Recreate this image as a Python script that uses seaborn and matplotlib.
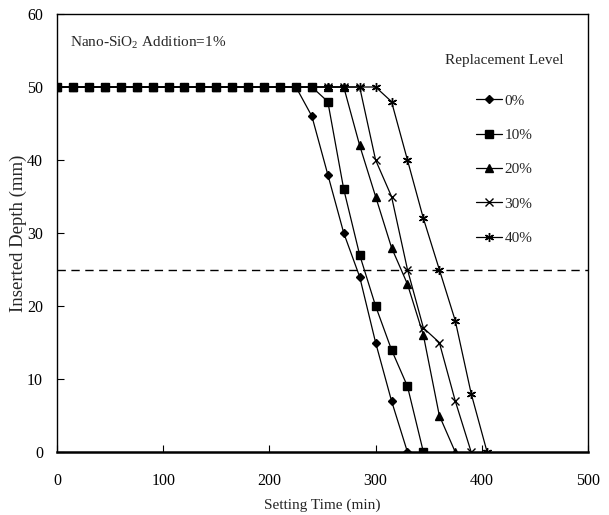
import numpy as np
import pandas as pd
import seaborn as sns
import matplotlib.pyplot as plt

# Setting time (min), shared by all series
time = [0, 15, 30, 45, 60, 75, 90, 105, 120, 135, 150, 165, 180, 195,
        210, 225, 240, 255, 270, 285, 300, 315, 330, 345, 360, 375, 390, 405]

# Inserted depth (mm) for each replacement level
depth_0 = [50, 50, 50, 50, 50, 50, 50, 50, 50, 50, 50, 50, 50, 50, 50, 50,
           46, 38, 30, 24, 15, 7, 0]
depth_10 = [50, 50, 50, 50, 50, 50, 50, 50, 50, 50, 50, 50, 50, 50, 50, 50, 50,
            48, 36, 27, 20, 14, 9, 0]
depth_20 = [50, 50, 50, 50, 50, 50, 50, 50, 50, 50, 50, 50, 50, 50, 50, 50, 50,
            50, 50, 42, 35, 28, 23, 16, 5, 0]
depth_30 = [50, 50, 50, 50, 50, 50, 50, 50, 50, 50, 50, 50, 50, 50, 50, 50, 50,
            50, 50, 50, 40, 35, 25, 17, 15, 7, 0]
depth_40 = [50, 50, 50, 50, 50, 50, 50, 50, 50, 50, 50, 50, 50, 50, 50, 50, 50,
            50, 50, 50, 50, 48, 40, 32, 25, 18, 8, 0]

levels = ["0%", "10%", "20%", "30%", "40%"]
depths = [depth_0, depth_10, depth_20, depth_30, depth_40]
markers = ["D", "s", "^", "x", (6, 2, 0)]
msizes = [4.2, 5.5, 5.5, 5.5, 6.5]
zorders = [3, 6, 4, 5, 5]

initial_set = 25  # dashed reference line (mm)

sns.set_style("ticks")
plt.rcParams["font.family"] = ["Liberation Serif", "DejaVu Serif"]
plt.rcParams["mathtext.fontset"] = "custom"
plt.rcParams["mathtext.rm"] = "Liberation Serif"

fig, ax = plt.subplots(figsize=(6.09, 5.15), dpi=100)
fig.subplots_adjust(left=0.0936, right=0.9655, top=0.9728, bottom=0.1223)

ax.axhline(initial_set, color="k", lw=1.0, ls=(0, (6, 4)), zorder=2)

for lvl, d, m, ms, z in zip(levels, depths, markers, msizes, zorders):
    df = pd.DataFrame({"time": time[:len(d)], "depth": d})
    sns.lineplot(data=df, x="time", y="depth", ax=ax, color="k", lw=0.9,
                 marker=m, markersize=ms, markerfacecolor="k",
                 markeredgecolor="k", markeredgewidth=1.0,
                 label=lvl, zorder=z)

ax.set_xlim(0, 500)
ax.set_ylim(0, 60)
ax.set_xticks(np.arange(0, 501, 100))
ax.set_yticks(np.arange(0, 61, 10))
ax.tick_params(direction="in", length=5, width=0.8, labelsize=11.5,
               colors="k")
ax.tick_params(axis="x", pad=15)
ax.tick_params(axis="y", pad=10)

for s in ["top", "right", "left"]:
    ax.spines[s].set_linewidth(1.0)
    ax.spines[s].set_color("k")
ax.spines["bottom"].set_linewidth(1.8)
ax.spines["bottom"].set_color("k")

ax.set_xlabel("Setting Time (min)", fontsize=11, labelpad=7)
ax.set_ylabel("Inserted Depth (mm)", fontsize=13.5, labelpad=0)

ax.text(0.025, 0.934, r"Nano-SiO$_\mathregular{2}$ Addition=1%",
        transform=ax.transAxes, fontsize=11, va="center", ha="left")

leg = ax.legend(title="Replacement Level", loc="upper center",
                bbox_to_anchor=(0.842, 0.925), frameon=False, fontsize=11,
                title_fontsize=11, handlelength=1.7, handletextpad=0.15,
                labelspacing=1.35, borderpad=0)
leg._legend_box.sep = 19

fig.savefig("out.png", dpi=100)
